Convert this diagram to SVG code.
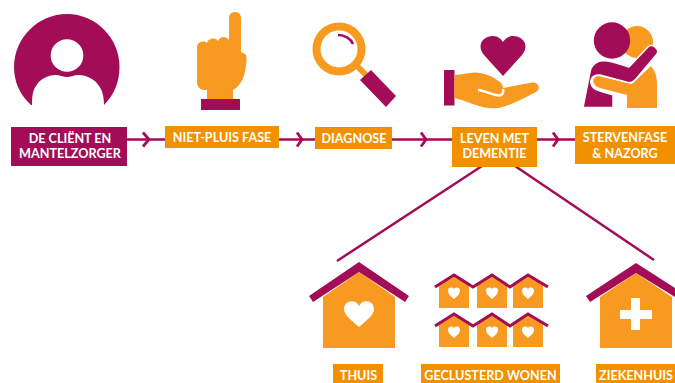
<svg xmlns="http://www.w3.org/2000/svg" width="675" height="383" viewBox="0 0 675 383">
<style>
.p{fill:#a30d57}.o{fill:#f99a20}.w{fill:#fff}.bo{fill:#f29100}.bp{fill:#a30d57}
text{font-family:Lato,"Liberation Sans",sans-serif;font-weight:700;font-size:12.6px;fill:#fff;text-anchor:middle}
.l{fill:none;stroke:#a30d57;stroke-width:2.5}
.c{fill:none;stroke:#a30d57;stroke-width:2.8}
.r{fill:none;stroke:#a30d57;stroke-width:3}
</style>
<defs>
<g id="mini">
<path class="o" d="M-15 9L0 0L15 9V34H-15Z"/>
<path class="w" d="M0 25C-5 21 -6 19 -6 16.500C-6 13.500 -2 12.500 0 15C2 12.500 6 13.500 6 16.500C6 19 5 21 0 25Z"/>
</g>
</defs>
<g id="connectors">
<path class="l" d="M127 139.500H165M279 139.500H315M392 139.500H452M537 139.500H575"/>
<path class="c" d="M143 132.500L149 139.500L143 146.500M297 132.500L302 139.500L297 146.500M421 132.500L426 139.500L421 146.500M553 132.500L558 139.500L553 146.500"/>
<path class="l" d="M482 166L337 261M515 166L654 260"/>
</g>
<g id="client">
<path class="p" d="M31 105C20 95 14 82 14 67C14 38 38 14 67 14C96 14 119.500 38 119.500 67C119.500 82 114 95 104 105Z"/>
<circle class="w" cx="67" cy="55.500" r="16.300"/>
<path class="w" d="M32 106C32 95 33 90 36 86C40 79 48 75 55 75C60 75 63 77 67 77C71 77 74 75 79 75C86 75 95 79 99 86C102 90 104 95 104 106Z"/>
<rect class="bp" x="11" y="127" width="116" height="39"/>
<text x="70" y="142.500">DE CLIËNT EN</text>
<text x="70" y="158">MANTELZORGER</text>
</g>
<g id="niet-pluis">
<path class="o" d="M229 18C229 10 241 10 241 18V52L245 54C247 56 247 59 246 65C245 75 242 85 233 90V99H207V90H204C200 90 197 86 197 82V47C197 42 204 40 207 43C208 38 216 37 218 41C220 36 226 36 229 40Z"/>
<rect class="p" x="201" y="99" width="39" height="11"/>
<rect class="bo" x="165" y="126" width="114" height="22"/>
<text x="222" y="142">NIET-PLUIS FASE</text>
</g>
<g id="diagnose">
<circle cx="339" cy="49" r="22.500" fill="none" stroke="#f99a20" stroke-width="8"/>
<path d="M357 66L369 78" fill="none" stroke="#f99a20" stroke-width="6"/>
<path class="p" d="M371 70L396 96L386 107L360 80Z"/>
<path d="M338 35C345 35 351 39 353 44" fill="none" stroke="#a30d57" stroke-width="2.500"/>
<rect class="bo" x="315" y="127" width="77" height="22"/>
<text x="354" y="143">DIAGNOSE</text>
</g>
<g id="leven">
<path class="p" d="M503 76L484 55C476 45 483 36 493 36C498 36 501 39 503 42C505 39 508 36 513 36C523 36 530 45 522 55Z"/>
<rect class="p" x="444" y="70" width="10.500" height="35.500"/>
<path class="o" d="M454.500 75C462 75 468 72.500 475 72.500C484 73 492 76 497 80C500 82 503 84 503 88L532 82.500C539 82 541 89 536 92C525 97 511 106 498 108C483 110 470 102 454.500 98Z"/>
<path d="M478 90C486 91 492 95 499 95.500C502 95.500 504 93 503 89" fill="none" stroke="#fff" stroke-width="2.500"/>
<rect class="bo" x="452" y="127" width="85" height="40"/>
<text x="494.500" y="142.500">LEVEN MET</text>
<text x="494.500" y="158">DEMENTIE</text>
</g>
<g id="stervenfase">
<circle class="o" cx="637" cy="42" r="16"/>
<path class="o" d="M651 66C656 72 657 78 657 85V108H627V95L600 88C592 86 591 77 598 76L632 84Z"/>
<path class="p" stroke="#fff" stroke-width="1.500" d="M583 107.500L590 72C591 65 597 60.500 604 60.500C612 61 622 65 629 67L648 47C652 43 660 49 657 54L636 79C632 83 630 83 626 82L600 75C592 74 589 81 592 86C594 90 600 91 613 95V107.500Z"/>
<circle class="p" cx="612" cy="40.500" r="18.200"/>
<rect class="bo" x="575" y="126" width="100" height="38"/>
<text x="625" y="142">STERVENFASE</text>
<text x="625" y="158">&amp; NAZORG</text>
</g>
<g id="thuis">
<path class="o" d="M323 297L359 272L395 297V348H323Z"/>
<path class="p" d="M309 296L359 262L409 296L405 302L359 272L313 302Z"/>
<path class="w" d="M359 327C351 320 344 315 344 309C344 301 355 298 359 306C363 298 374 301 374 309C374 315 367 320 359 327Z"/>
<rect class="bo" x="333" y="364" width="50" height="19"/>
<text x="358.500" y="379.500">THUIS</text>
</g>
<g id="geclusterd">
<use href="#mini" x="454" y="274"/>
<use href="#mini" x="492" y="274"/>
<use href="#mini" x="528" y="274"/>
<use href="#mini" x="454" y="313"/>
<use href="#mini" x="492" y="313"/>
<use href="#mini" x="528" y="313"/>
<path class="r" d="M435 287L454 275L473 287L492 275L510 287L528 275L548 287"/>
<path class="r" d="M435 326L454 314L473 326L492 314L510 326L528 314L548 326"/>
<rect class="bo" x="421" y="364" width="139" height="19"/>
<text x="490.500" y="379.500">GECLUSTERD WONEN</text>
</g>
<g id="ziekenhuis">
<path class="o" d="M600 297L636 273L672 297V348H600Z"/>
<path class="p" d="M586 296L636 263L675 288V297L636 273L590 302Z"/>
<path class="w" d="M631 298H640V310H652V319H640V330H631V319H620V310H631Z"/>
<rect class="bo" x="596" y="364" width="79" height="19"/>
<text x="636" y="379.500">ZIEKENHUIS</text>
</g>
</svg>
